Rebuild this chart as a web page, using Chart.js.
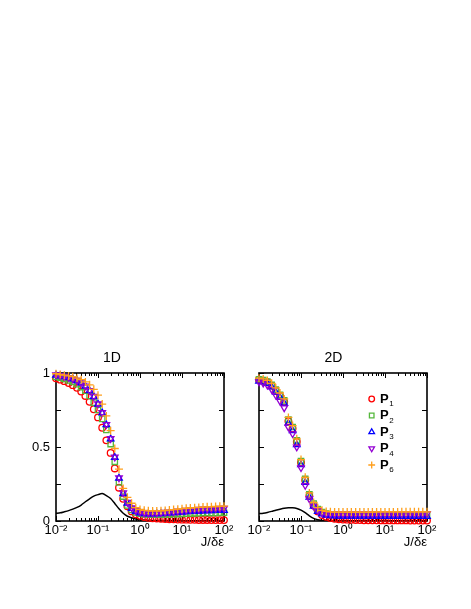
<!DOCTYPE html>
<html>
<head>
<meta charset="utf-8">
<script src="https://cdn.jsdelivr.net/npm/chart.js@4.4.1/dist/chart.umd.min.js"></script>
<style>
  html, body { margin: 0; padding: 0; background: #fff; }
  body { width: 471px; height: 609px; position: relative; overflow: hidden; }
  .panel { position: absolute; top: 340px; height: 215px; }
  #wrap1D { left: 0; width: 240px; }
  #wrap2D { left: 240px; width: 231px; }
</style>
</head>
<body>
<div class="panel" id="wrap1D"><canvas id="chart1D"></canvas></div>
<div class="panel" id="wrap2D"><canvas id="chart2D"></canvas></div>
<script>
// ============================================================
// P_n vs J/δε — painéis 1D e 2D
// ============================================================

const FONT = "'Liberation Sans', Arial, Helvetica, sans-serif";

// ── Eixo x (J/δε), 10 pontos por década ─────────────────────
const J_VALUES = [
  0.01, 0.0126, 0.0158, 0.02, 0.0251, 0.0316, 0.0398, 0.0501, 0.0631, 0.0794,
  0.1, 0.126, 0.158, 0.2, 0.251, 0.316, 0.398, 0.501, 0.631, 0.794,
  1, 1.26, 1.58, 2, 2.51, 3.16, 3.98, 5.01, 6.31, 7.94,
  10, 12.6, 15.8, 20, 25.1, 31.6, 39.8, 50.1, 63.1, 79.4, 100,
];
const X_DECADES = [0.01, 0.1, 1, 10, 100];
const DECADE_LABELS = ['10\u207B\u00B2', '10\u207B\u00B9', '10\u2070', '10\u00B9', '10\u00B2'];
const Y_TICKS = [0, 0.25, 0.5, 0.75, 1];

// ── Séries 1D ───────────────────────────────────────────────
const P1_1D = [0.965, 0.955, 0.945, 0.932, 0.918, 0.9, 0.875, 0.845, 0.805, 0.755, 0.7,
  0.63, 0.545, 0.46, 0.355, 0.225, 0.15, 0.1, 0.065, 0.045, 0.035,
  0.027, 0.022, 0.019, 0.017, 0.015, 0.013, 0.012, 0.011, 0.01, 0.009,
  0.009, 0.008, 0.008, 0.007, 0.007, 0.007, 0.006, 0.006, 0.006, 0.006];
const P2_1D = [0.975, 0.968, 0.96, 0.95, 0.94, 0.925, 0.905, 0.88, 0.845, 0.8, 0.75,
  0.69, 0.615, 0.52, 0.4, 0.26, 0.165, 0.105, 0.075, 0.058, 0.05,
  0.046, 0.044, 0.042, 0.042, 0.043, 0.044, 0.045, 0.046, 0.047, 0.048,
  0.05, 0.051, 0.052, 0.053, 0.054, 0.054, 0.055, 0.055, 0.056, 0.056];
const P3_1D = [0.985, 0.98, 0.975, 0.968, 0.96, 0.948, 0.932, 0.91, 0.88, 0.84, 0.79,
  0.73, 0.65, 0.555, 0.43, 0.29, 0.185, 0.12, 0.085, 0.065, 0.055,
  0.05, 0.048, 0.048, 0.049, 0.05, 0.052, 0.054, 0.056, 0.058, 0.06,
  0.062, 0.064, 0.066, 0.067, 0.068, 0.069, 0.07, 0.071, 0.072, 0.072];
const P4_1D = [0.988, 0.983, 0.978, 0.97, 0.962, 0.95, 0.934, 0.912, 0.882, 0.842, 0.792,
  0.732, 0.652, 0.557, 0.432, 0.292, 0.19, 0.126, 0.09, 0.07, 0.06,
  0.055, 0.053, 0.053, 0.054, 0.056, 0.058, 0.061, 0.064, 0.067, 0.07,
  0.073, 0.075, 0.077, 0.079, 0.081, 0.082, 0.083, 0.084, 0.085, 0.085];
const P6_1D = [0.995, 0.99, 0.985, 0.98, 0.975, 0.965, 0.955, 0.94, 0.92, 0.89, 0.85,
  0.79, 0.71, 0.61, 0.49, 0.35, 0.22, 0.16, 0.12, 0.09, 0.078,
  0.072, 0.069, 0.068, 0.068, 0.069, 0.071, 0.074, 0.077, 0.08, 0.083,
  0.086, 0.088, 0.09, 0.092, 0.094, 0.096, 0.097, 0.098, 0.099, 0.1];
const LINE_1D = [0.052, 0.055, 0.062, 0.07, 0.08, 0.092, 0.108, 0.13, 0.15, 0.168, 0.178,
  0.185, 0.172, 0.152, 0.118, 0.082, 0.052, 0.032, 0.022, 0.014, 0.009,
  0.006, 0.005, 0.004, 0.004, 0.004, 0.003, 0.003, 0.003, 0.003, 0.003,
  0.002, 0.002, 0.002, 0.002, 0.002, 0.002, 0.002, 0.002, 0.002, 0.002];

// ── Séries 2D ───────────────────────────────────────────────
const P1_2D = [0.955, 0.948, 0.938, 0.915, 0.88, 0.845, 0.805, 0.675, 0.625, 0.535, 0.395,
  0.275, 0.17, 0.105, 0.065, 0.04, 0.028, 0.02, 0.015, 0.012, 0.01,
  0.009, 0.008, 0.007, 0.006, 0.005, 0.005, 0.005, 0.005, 0.004, 0.004,
  0.004, 0.004, 0.004, 0.004, 0.004, 0.003, 0.003, 0.003, 0.003, 0.003];
const P2_2D = [0.958, 0.952, 0.942, 0.92, 0.888, 0.852, 0.815, 0.685, 0.635, 0.545, 0.405,
  0.285, 0.18, 0.118, 0.08, 0.06, 0.05, 0.045, 0.042, 0.041, 0.04,
  0.04, 0.04, 0.04, 0.04, 0.04, 0.04, 0.04, 0.041, 0.041, 0.041,
  0.041, 0.041, 0.041, 0.042, 0.042, 0.042, 0.042, 0.042, 0.042, 0.042];
const P3_2D = [0.945, 0.94, 0.93, 0.905, 0.87, 0.835, 0.795, 0.66, 0.61, 0.515, 0.38,
  0.26, 0.16, 0.1, 0.065, 0.048, 0.04, 0.036, 0.034, 0.033, 0.033,
  0.033, 0.033, 0.032, 0.032, 0.032, 0.032, 0.032, 0.031, 0.031, 0.031,
  0.031, 0.031, 0.031, 0.03, 0.03, 0.03, 0.03, 0.03, 0.03, 0.03];
const P4_2D = [0.94, 0.932, 0.918, 0.89, 0.85, 0.81, 0.765, 0.635, 0.59, 0.5, 0.36,
  0.24, 0.15, 0.1, 0.07, 0.055, 0.05, 0.048, 0.048, 0.048, 0.048,
  0.048, 0.048, 0.048, 0.048, 0.048, 0.048, 0.048, 0.048, 0.048, 0.049,
  0.049, 0.049, 0.049, 0.049, 0.049, 0.05, 0.05, 0.05, 0.05, 0.05];
const P6_2D = [0.965, 0.96, 0.95, 0.93, 0.9, 0.865, 0.825, 0.7, 0.645, 0.555, 0.415,
  0.295, 0.19, 0.125, 0.09, 0.072, 0.065, 0.062, 0.06, 0.06, 0.06,
  0.06, 0.06, 0.06, 0.06, 0.06, 0.06, 0.06, 0.061, 0.061, 0.061,
  0.061, 0.061, 0.061, 0.062, 0.062, 0.062, 0.062, 0.062, 0.062, 0.062];
const LINE_2D = [0.05, 0.053, 0.058, 0.065, 0.073, 0.08, 0.086, 0.089, 0.089, 0.085, 0.074,
  0.056, 0.035, 0.018, 0.008, 0.004, 0.003, 0.002, 0.002, 0.002, 0.002,
  0.002, 0.002, 0.002, 0.002, 0.002, 0.002, 0.002, 0.002, 0.002, 0.002,
  0.002, 0.002, 0.002, 0.002, 0.002, 0.002, 0.002, 0.002, 0.002, 0.002];

// ── Estilo das séries (P1, P2, P3, P4, P6) ──────────────────
const SERIES_SUBS = ['1', '2', '3', '4', '6'];
const COLORS      = ['#ff0000', '#55b83c', '#0000ff', '#9400d3', '#ff9f1c'];
const STYLES      = ['circle', 'rect', 'triangle', 'triangle', 'cross'];
const ROTATIONS   = [0, 0, 0, 180, 0];
const RADII       = [3.3, 3.8, 3.8, 3.8, 4];

const pts = ys => J_VALUES.map((x, i) => ({ x, y: ys[i] }));

// ── Moldura + marcas internas (estilo gnuplot) ───────────────
const frameTicks = {
  id: 'frameTicks',
  beforeDatasetsDraw(chart) {
    const { ctx, chartArea: a, scales: { x, y } } = chart;
    ctx.save();
    ctx.strokeStyle = '#000';
    ctx.lineWidth = 1;
    ctx.beginPath();
    X_DECADES.forEach((d, i) => {
      for (let m = 1; m <= 9; m++) {
        if (m > 1 && i === X_DECADES.length - 1) break;
        const px = Math.round(x.getPixelForValue(m * d)) + 0.5;
        const len = m === 1 ? 5 : 3;
        ctx.moveTo(px, a.bottom); ctx.lineTo(px, a.bottom - len);
        ctx.moveTo(px, a.top);    ctx.lineTo(px, a.top + len);
      }
    });
    Y_TICKS.forEach(v => {
      const py = Math.round(y.getPixelForValue(v)) + 0.5;
      ctx.moveTo(a.left, py);  ctx.lineTo(a.left + 5, py);
      ctx.moveTo(a.right, py); ctx.lineTo(a.right - 5, py);
    });
    ctx.stroke();
    ctx.lineWidth = 1.6;
    ctx.strokeRect(a.left, a.top, a.width, a.height);
    ctx.restore();
  },
};

// ── Legenda dentro do painel 2D ──────────────────────────────
const legend2D = {
  id: 'legend2D',
  afterDatasetsDraw(chart) {
    if (chart.canvas.id !== 'chart2D') return;
    const ctx = chart.ctx;
    const x0 = 131.7, y0 = 59, dy = 16.5;
    ctx.save();
    SERIES_SUBS.forEach((sub, i) => {
      const y = y0 + i * dy;
      ctx.strokeStyle = COLORS[i];
      ctx.fillStyle = 'rgba(0,0,0,0)';
      ctx.lineWidth = 1.3;
      Chart.helpers.drawPoint(ctx, { pointStyle: STYLES[i], rotation: ROTATIONS[i], radius: RADII[i] * 0.85, borderWidth: 1.3 }, x0, y);
      ctx.fillStyle = '#000';
      ctx.textAlign = 'left';
      ctx.textBaseline = 'middle';
      ctx.font = `bold 13px ${FONT}`;
      ctx.fillText('P', x0 + 8.3, y);
      const w = ctx.measureText('P').width;
      ctx.font = `8px ${FONT}`;
      ctx.fillText(sub, x0 + 8.3 + w + 0.5, y + 5);
    });
    ctx.restore();
  },
};

function decadeLabel(v) {
  const i = X_DECADES.findIndex(d => Math.abs(d - v) / d < 1e-6);
  return i >= 0 ? DECADE_LABELS[i] : '';
}

// ── Um painel ────────────────────────────────────────────────
function buildPanel(canvasId, title, series, line, yLabels, yWidth, padRight) {
  const datasets = series.map((ys, i) => ({
    label: 'P' + SERIES_SUBS[i],
    data: pts(ys),
    pointStyle: STYLES[i], rotation: ROTATIONS[i], pointRadius: RADII[i],
    borderColor: COLORS[i], backgroundColor: 'rgba(0,0,0,0)',
    borderWidth: 1.3, order: 5 - i, clip: false,
  }));
  datasets.push({
    label: 'line', data: pts(line), showLine: true, pointRadius: 0,
    borderColor: '#000', borderWidth: 1.5, tension: 0.2, order: 6,
  });

  return new Chart(document.getElementById(canvasId), {
    type: 'scatter',
    data: { datasets },
    options: {
      responsive: true, maintainAspectRatio: false, animation: false,
      layout: { padding: { left: 0, right: padRight, top: 0, bottom: 0 } },
      plugins: {
        legend: { display: false },
        tooltip: { enabled: false },
        title: {
          display: true, text: title, color: '#000',
          font: { family: FONT, size: 14, weight: 'normal' },
          padding: { top: 10, bottom: 6.2 },
        },
      },
      scales: {
        x: {
          type: 'logarithmic', min: 0.01, max: 100,
          grid: { display: false, drawTicks: false }, border: { display: false },
          ticks: { autoSkip: false, maxRotation: 0, padding: 2, color: '#000',
                   font: { family: FONT, size: 13 }, callback: v => decadeLabel(v) },
          title: { display: true, text: 'J/δε', align: 'end', color: '#000',
                   font: { family: FONT, size: 13 }, padding: { top: 0, bottom: 5 } },
          afterFit: s => { s.height = 34; },
        },
        y: {
          min: 0, max: 1,
          grid: { display: false, drawTicks: false }, border: { display: false },
          ticks: { display: yLabels, stepSize: 0.5, padding: 6, color: '#000',
                   font: { family: FONT, size: 13 }, callback: v => String(v) },
          afterFit: s => { s.width = yWidth; },
        },
      },
    },
    plugins: [frameTicks, legend2D],
  });
}

buildPanel('chart1D', '1D', [P1_1D, P2_1D, P3_1D, P4_1D, P6_1D], LINE_1D, true, 56, 16);
buildPanel('chart2D', '2D', [P1_2D, P2_2D, P3_2D, P4_2D, P6_2D], LINE_2D, false, 19, 44);
</script>
</body>
</html>
